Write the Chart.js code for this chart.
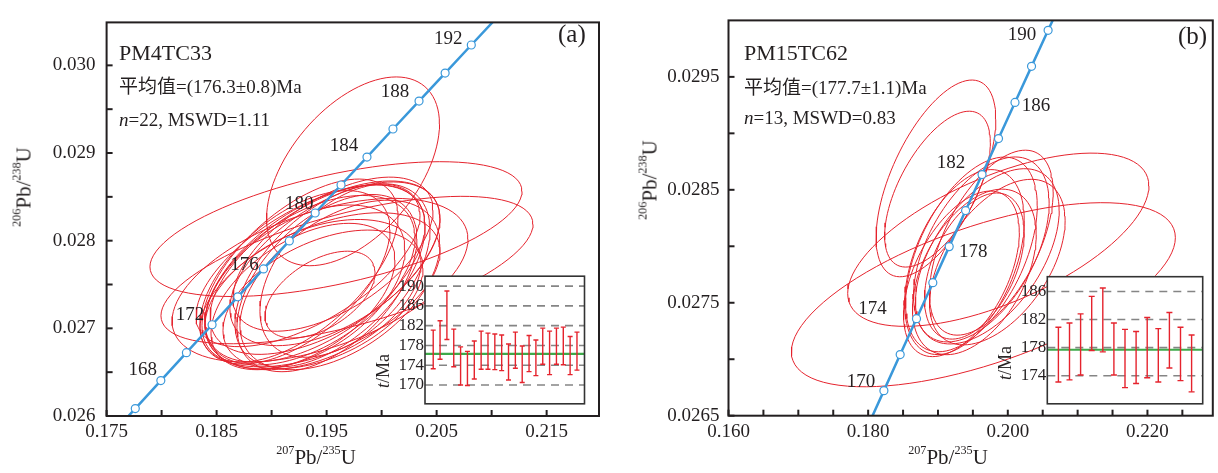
<!DOCTYPE html>
<html>
<head>
<meta charset="utf-8">
<script src="https://cdn.jsdelivr.net/npm/chart.js@4.4.0/dist/chart.umd.min.js"></script>
<style>
  html, body { margin: 0; padding: 0; background: #fff; }
  #wrap { position: relative; width: 1218px; height: 473px; overflow: hidden;
          font-family: 'Liberation Serif', 'Noto Sans CJK SC', serif; color: #231f20; }
  canvas { position: absolute; }
  .t { position: absolute; white-space: nowrap; line-height: 1; }
  .c { transform: translate(-50%, -50%); }
  .r { transform: translate(-50%, -50%) rotate(-90deg); }
  sup { font-size: 0.58em; vertical-align: baseline; position: relative; top: -0.8em; }
</style>
</head>
<body>
<div id="wrap">
  <canvas id="mainA" width="609" height="473" style="left:0;top:0"></canvas>
  <canvas id="mainB" width="609" height="473" style="left:609px;top:0"></canvas>
  <canvas id="insetA" width="220" height="150" style="left:370px;top:265px"></canvas>
  <canvas id="insetB" width="220" height="150" style="left:995px;top:265px"></canvas>

  <!-- panel (a) text -->
  <div class="t" style="left:119px;top:42px;font-size:22px">PM4TC33</div>
  <div class="t" style="left:119px;top:77px;font-size:19px">平均值=(176.3±0.8)Ma</div>
  <div class="t" style="left:119px;top:110px;font-size:19px"><i>n</i>=22, MSWD=1.11</div>
  <div class="t" style="left:558px;top:21px;font-size:25px">(a)</div>
  <div class="t c" style="left:316px;top:457px;font-size:21px"><sup>207</sup>Pb/<sup>235</sup>U</div>
  <div class="t r" style="left:24px;top:187px;font-size:21px"><sup>206</sup>Pb/<sup>238</sup>U</div>
  <div class="t r" style="left:383px;top:371px;font-size:18px"><i>t</i>/Ma</div>

  <!-- panel (b) text -->
  <div class="t" style="left:744px;top:42px;font-size:22px">PM15TC62</div>
  <div class="t" style="left:744px;top:78px;font-size:19px">平均值=(177.7±1.1)Ma</div>
  <div class="t" style="left:744px;top:108px;font-size:19px"><i>n</i>=13, MSWD=0.83</div>
  <div class="t" style="left:1178px;top:23px;font-size:25px">(b)</div>
  <div class="t c" style="left:948px;top:457px;font-size:21px"><sup>207</sup>Pb/<sup>235</sup>U</div>
  <div class="t r" style="left:650px;top:180px;font-size:21px"><sup>206</sup>Pb/<sup>238</sup>U</div>
  <div class="t r" style="left:1005px;top:363px;font-size:18px"><i>t</i>/Ma</div>
</div>

<script>
// ---------------------------------------------------------------------------
// DATA
// ---------------------------------------------------------------------------

// concordia reference points (age in Ma, 207Pb/235U, 206Pb/238U)
const concAges = [164, 166, 168, 170, 172, 174, 176, 178, 180, 182, 184, 186, 188, 190, 192, 194];
const concX = [0.17529, 0.177608, 0.17993, 0.182256, 0.184587, 0.186923, 0.189263, 0.191608,
               0.193957, 0.196311, 0.198669, 0.201032, 0.2034, 0.205773, 0.208151, 0.210533];
const concY = [0.025767, 0.026085, 0.026404, 0.026722, 0.027041, 0.027359, 0.027678, 0.027997,
               0.028316, 0.028635, 0.028954, 0.029274, 0.029593, 0.029912, 0.030232, 0.030552];

// (a) PM4TC33 error ellipses: centre, half extents, correlation
const ellA_x   = [0.1974, 0.19585, 0.19685, 0.1944, 0.19394, 0.19349, 0.19485, 0.19303, 0.19531, 0.1944, 0.19258,
                  0.19576, 0.19376, 0.19503, 0.19212, 0.19621, 0.19331, 0.19467, 0.19558, 0.19285, 0.19667, 0.1944];
const ellA_y   = [0.028791, 0.028132, 0.027665, 0.027549, 0.027626, 0.027549, 0.027692, 0.027473, 0.027604, 0.02744, 0.027659,
                  0.027736, 0.027385, 0.027516, 0.027582, 0.027495, 0.027714, 0.02733, 0.027846, 0.027363, 0.027659, 0.027385];
const ellA_dx  = [0.00786, 0.01691, 0.01691, 0.01345, 0.01, 0.00955, 0.01045, 0.00909, 0.00864, 0.01091, 0.00891,
                  0.00955, 0.00982, 0.00818, 0.00864, 0.00909, 0.01018, 0.00909, 0.00909, 0.00836, 0.00773, 0.005];
const ellA_dy  = [0.001077, 0.000769, 0.000841, 0.000934, 0.001011, 0.000967, 0.000989, 0.000934, 0.001044, 0.000879, 0.001044,
                  0.000934, 0.000857, 0.001011, 0.000989, 0.000967, 0.000923, 0.000791, 0.000879, 0.000835, 0.000989, 0.000495];
const ellA_rho = [0.5, 0.56, 0.62, 0.5, 0.55, 0.5, 0.57, 0.45, 0.53, 0.5, 0.6,
                  0.55, 0.42, 0.5, 0.55, 0.48, 0.62, 0.45, 0.57, 0.5, 0.47, 0.5];

// (b) PM15TC62 error ellipses
const ellB_x   = [0.18971, 0.18993, 0.1965, 0.19864, 0.19479, 0.19621, 0.19379, 0.19707, 0.19521, 0.19764, 0.19336, 0.1985, 0.19521];
const ellB_y   = [0.028601, 0.028506, 0.027571, 0.028058, 0.027928, 0.027972, 0.02786, 0.027911, 0.027773, 0.028032, 0.027756, 0.02786, 0.027825];
const ellB_dx  = [0.00857, 0.00757, 0.0275, 0.02157, 0.00943, 0.00971, 0.00857, 0.01029, 0.00886, 0.00886, 0.00829, 0.00971, 0.00714];
const ellB_dy  = [0.000871, 0.00069, 0.000815, 0.000767, 0.000862, 0.000819, 0.000819, 0.000776, 0.000733, 0.000819, 0.000733, 0.000733, 0.000647];
const ellB_rho = [0.6, 0.6, 0.62, 0.62, 0.5, 0.5, 0.45, 0.52, 0.45, 0.55, 0.5, 0.5, 0.45];

// axis ticks
const xTicksA = [0.175, 0.18, 0.185, 0.19, 0.195, 0.2, 0.205, 0.21, 0.215];
const xLabelsA = ['0.175', '', '0.185', '', '0.195', '', '0.205', '', '0.215'];
const yTicksA = [0.026, 0.0265, 0.027, 0.0275, 0.028, 0.0285, 0.029, 0.0295, 0.03];
const yLabelsA = ['0.026', '', '0.027', '', '0.028', '', '0.029', '', '0.030'];
const xTicksB = [0.16, 0.165, 0.17, 0.175, 0.18, 0.185, 0.19, 0.195, 0.2, 0.205, 0.21, 0.215, 0.22, 0.225];
const xLabelsB = ['0.160', '', '', '', '0.180', '', '', '', '0.200', '', '', '', '0.220', ''];
const yTicksB = [0.0265, 0.027, 0.0275, 0.028, 0.0285, 0.029, 0.0295];
const yLabelsB = ['0.0265', '', '0.0275', '', '0.0285', '', '0.0295'];

// concordia ages that carry a label
const ageLabelsA = [168, 172, 176, 180, 184, 188, 192];
const ageLabelsB = [170, 174, 178, 182, 186, 190];

// inset: individual 206Pb/238U ages (error bar ends, Ma) and weighted mean
const ageHiA = [181.1, 183.0, 189.0, 181.3, 177.7, 176.8, 178.9, 180.9, 180.5, 180.3, 180.1,
                178.3, 180.7, 177.9, 180.0, 179.1, 181.5, 180.9, 181.5, 181.7, 179.8, 180.7];
const ageLoA = [173.3, 175.2, 179.2, 173.7, 170.0, 169.9, 171.2, 173.2, 173.2, 173.1, 172.9,
                171.0, 173.4, 170.5, 172.7, 171.9, 174.2, 172.1, 174.2, 174.1, 172.1, 173.0];
const meanA = 176.3;
const insetTicksA = [170, 174, 178, 182, 186, 190];

const ageHiB = [180.9, 181.5, 182.8, 185.3, 186.5, 181.5, 180.6, 180.3, 182.3, 180.7, 183.0, 180.9, 179.8];
const ageLoB = [173.1, 173.4, 174.1, 177.6, 177.4, 174.1, 172.3, 172.9, 173.7, 173.1, 175.1, 173.3, 171.7];
const meanB = 177.7;
const insetTicksB = [174, 178, 182, 186];

// ---------------------------------------------------------------------------
// STYLE
// ---------------------------------------------------------------------------
const FONT = "'Liberation Serif', 'Noto Sans CJK SC', serif";
const INK = '#231f20';
const RED = '#e5232d';
const BLUE = '#3a98da';
const GREEN = '#3eaa4a';
const GREY = '#858585';

// label offsets (px) relative to their concordia marker
const ageOffsetA = { 168: [-18, -11], 172: [-22, -10], 176: [-19, -4], 180: [-16, -9], 184: [-23, -11], 188: [-24, -9], 192: [-23, -6] };
const ageOffsetB = { 170: [-23, -9], 174: [-44, -10], 178: [24, 5], 182: [-31, -12], 186: [21, 4], 190: [-26, 5] };

// ---------------------------------------------------------------------------
// PLUGINS
// ---------------------------------------------------------------------------
const framePlugin = {
  id: 'frame',
  beforeDraw(chart, args, opts) {
    if (!opts.fill) return;
    const a = chart.chartArea, ctx = chart.ctx;
    ctx.save();
    ctx.fillStyle = opts.fill;
    ctx.fillRect(a.left, a.top, a.right - a.left, a.bottom - a.top);
    ctx.restore();
  },
  afterDraw(chart, args, opts) {
    const a = chart.chartArea, ctx = chart.ctx;
    ctx.save();
    ctx.strokeStyle = opts.color || INK;
    ctx.lineWidth = opts.width || 2;
    ctx.strokeRect(a.left, a.top, a.right - a.left, a.bottom - a.top);
    // inward tick marks
    if (opts.xTicks) {
      opts.xTicks.forEach(v => {
        const px = chart.scales.x.getPixelForValue(v);
        ctx.beginPath(); ctx.moveTo(px, a.bottom); ctx.lineTo(px, a.bottom - 6); ctx.stroke();
      });
    }
    if (opts.yTicks) {
      opts.yTicks.forEach(v => {
        const py = chart.scales.y.getPixelForValue(v);
        ctx.beginPath(); ctx.moveTo(a.left, py); ctx.lineTo(a.left + 6, py); ctx.stroke();
      });
    }
    ctx.restore();
  }
};

const ageLabelPlugin = {
  id: 'ageLabels',
  afterDatasetsDraw(chart, args, opts) {
    if (!opts.ages) return;
    const ctx = chart.ctx;
    ctx.save();
    ctx.font = '19px ' + FONT;
    ctx.fillStyle = INK;
    ctx.textAlign = 'center';
    ctx.textBaseline = 'middle';
    opts.ages.forEach(age => {
      const i = concAges.indexOf(age);
      const px = chart.scales.x.getPixelForValue(concX[i]);
      const py = chart.scales.y.getPixelForValue(concY[i]);
      const off = opts.offsets[age];
      ctx.fillText(String(age), px + off[0], py + off[1]);
    });
    ctx.restore();
  }
};

// ---------------------------------------------------------------------------
// HELPERS
// ---------------------------------------------------------------------------
function ellipsePoints(cx, cy, dx, dy, rho) {
  const pts = [];
  const s = Math.sqrt(1 - rho * rho);
  for (let k = 0; k <= 96; k++) {
    const t = (k / 96) * Math.PI * 2;
    pts.push({ x: cx + dx * Math.cos(t), y: cy + dy * (rho * Math.cos(t) + s * Math.sin(t)) });
  }
  return pts;
}

function tickAxis(min, max, ticks, labels, fit, padding) {
  return {
    type: 'linear', min: min, max: max,
    grid: { display: false, drawTicks: false },
    border: { display: false },
    afterBuildTicks: s => { s.ticks = ticks.map(v => ({ value: v })); },
    afterFit: fit,
    ticks: {
      padding: padding, color: INK, autoSkip: false, maxRotation: 0,
      font: { family: FONT, size: 19 },
      callback: (v, i) => labels[i]
    }
  };
}

function buildMain(id, cfg) {
  const datasets = [];
  cfg.ex.forEach((cx, i) => {
    datasets.push({
      data: ellipsePoints(cx, cfg.ey[i], cfg.edx[i], cfg.edy[i], cfg.erho[i]),
      borderColor: RED, borderWidth: 1, pointRadius: 0, tension: 0, order: 1
    });
  });
  datasets.push({
    data: concX.map((x, i) => ({ x: x, y: concY[i] })),
    borderColor: BLUE, borderWidth: 2.5, tension: 0, order: 0,
    pointRadius: 4, pointBackgroundColor: '#fff', pointBorderColor: BLUE, pointBorderWidth: 1.2
  });

  new Chart(document.getElementById(id), {
    type: 'line',
    data: { datasets: datasets },
    options: {
      responsive: false, animation: false, events: [],
      layout: { padding: { left: 0, top: 9, right: cfg.padRight, bottom: 0 } },
      plugins: {
        legend: { display: false }, tooltip: { enabled: false },
        frame: { xTicks: cfg.xTicks, yTicks: cfg.yTicks, width: 2 },
        ageLabels: { ages: cfg.ages, offsets: cfg.offsets }
      },
      scales: {
        x: tickAxis(cfg.xMin, cfg.xMax, cfg.xTicks, cfg.xLabels, s => { s.height = cfg.xH; }, 5),
        y: tickAxis(cfg.yMin, cfg.yMax, cfg.yTicks, cfg.yLabels, s => { s.width = cfg.yW; }, cfg.yPad)
      }
    },
    plugins: [framePlugin, ageLabelPlugin]
  });
}

function buildInset(id, cfg) {
  const n = cfg.hi.length;
  const datasets = [];
  cfg.grid.forEach(v => {
    datasets.push({ data: [{ x: cfg.xMin, y: v }, { x: cfg.xMax, y: v }], borderColor: GREY,
                    borderWidth: 1.6, borderDash: [8, 6], pointRadius: 0, order: 3 });
  });
  datasets.push({ data: [{ x: cfg.xMin, y: cfg.mean }, { x: cfg.xMax, y: cfg.mean }], borderColor: GREEN,
                  borderWidth: 2.2, pointRadius: 0, order: 2 });
  const bars = [], caps = [];
  for (let i = 0; i < n; i++) {
    bars.push({ x: i + 1, y: cfg.lo[i] }, { x: i + 1, y: cfg.hi[i] }, { x: i + 1, y: null });
    caps.push({ x: i + 1, y: cfg.lo[i] }, { x: i + 1, y: cfg.hi[i] });
  }
  datasets.push({ data: bars, borderColor: RED, borderWidth: 1.4, pointRadius: 0, spanGaps: false, order: 1 });
  datasets.push({ data: caps, showLine: false, pointStyle: 'line', pointRadius: cfg.cap,
                  pointBorderColor: RED, pointBorderWidth: 1.4, order: 0 });

  new Chart(document.getElementById(id), {
    type: 'line',
    data: { datasets: datasets },
    options: {
      responsive: false, animation: false, events: [],
      layout: { padding: cfg.pad },
      plugins: {
        legend: { display: false }, tooltip: { enabled: false },
        frame: { fill: '#fff', color: '#333', width: 1.6 }
      },
      scales: {
        x: { type: 'linear', display: false, min: cfg.xMin, max: cfg.xMax },
        y: {
          type: 'linear', min: cfg.yMin, max: cfg.yMax,
          grid: { display: false, drawTicks: false }, border: { display: false },
          afterBuildTicks: s => { s.ticks = cfg.grid.map(v => ({ value: v })); },
          afterFit: s => { s.width = cfg.yW; },
          ticks: { padding: 1, color: INK, font: { family: FONT, size: 17 }, callback: v => String(v) }
        }
      }
    },
    plugins: [framePlugin]
  });
}

// ---------------------------------------------------------------------------
// CHARTS
// ---------------------------------------------------------------------------
buildMain('mainA', {
  ex: ellA_x, ey: ellA_y, edx: ellA_dx, edy: ellA_dy, erho: ellA_rho,
  xMin: 0.175, xMax: 0.21976, yMin: 0.026, yMax: 0.03049,
  xTicks: xTicksA, xLabels: xLabelsA, yTicks: yTicksA, yLabels: yLabelsA,
  xH: 57, yW: 106.6, yPad: 11, padRight: 10,
  ages: ageLabelsA, offsets: ageOffsetA
});

buildMain('mainB', {
  ex: ellB_x, ey: ellB_y, edx: ellB_dx, edy: ellB_dy, erho: ellB_rho,
  xMin: 0.16, xMax: 0.22936, yMin: 0.0265, yMax: 0.03,
  xTicks: xTicksB, xLabels: xLabelsB, yTicks: yTicksB, yLabels: yLabelsB,
  xH: 57.3, yW: 119.5, yPad: 9, padRight: 4,
  ages: ageLabelsB, offsets: ageOffsetB
});

buildInset('insetA', {
  hi: ageHiA, lo: ageLoA, mean: meanA, grid: insetTicksA,
  xMin: -0.2, xMax: 23.1, yMin: 166.2, yMax: 192,
  yW: 55, pad: { left: 0, top: 10, right: 5.5, bottom: 11 }, cap: 2.5
});

buildInset('insetB', {
  hi: ageHiB, lo: ageLoB, mean: meanB, grid: insetTicksB,
  xMin: 0, xMax: 14, yMin: 170, yMax: 188.1,
  yW: 52.3, pad: { left: 0, top: 11.7, right: 12.3, bottom: 10 }, cap: 3
});
</script>
</body>
</html>
